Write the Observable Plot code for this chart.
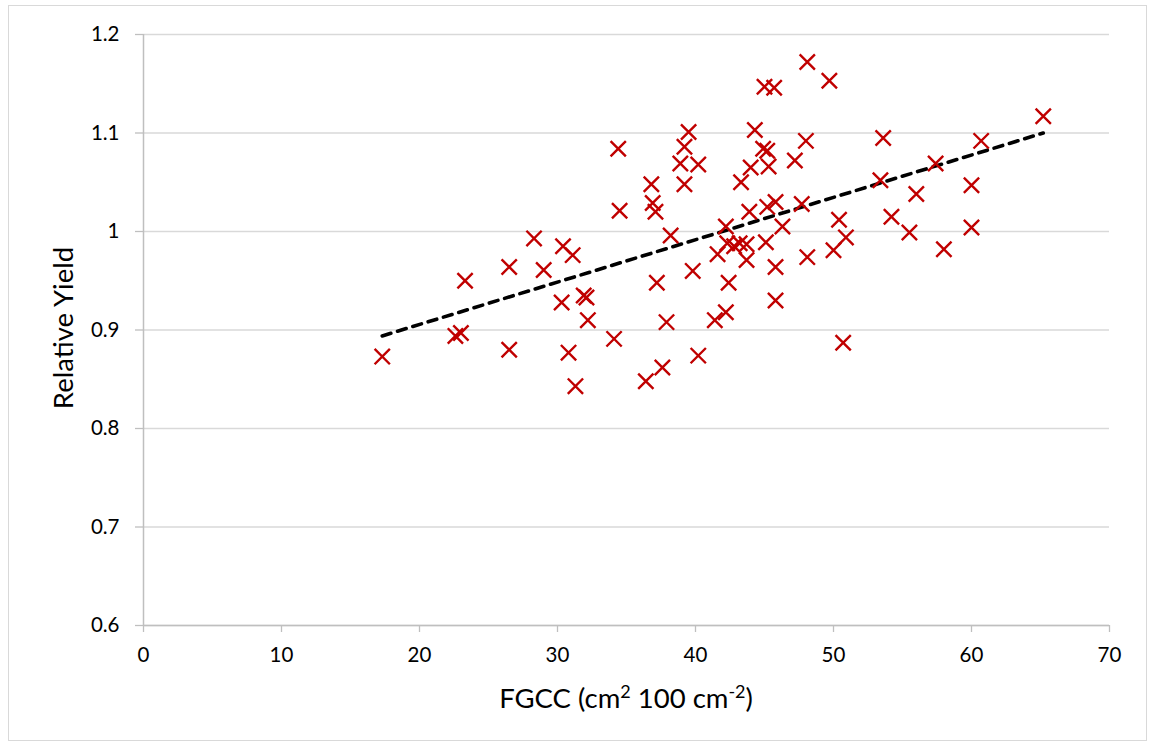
<!DOCTYPE html>
<html>
<head>
<meta charset="utf-8">
<script src="https://cdn.jsdelivr.net/npm/d3@7"></script>
<script src="https://cdn.jsdelivr.net/npm/@observablehq/plot@0.6"></script>
<style>
  html, body { margin: 0; padding: 0; background: #fff; }
  #wrap { position: relative; width: 1150px; height: 747px; overflow: hidden; }
  #border { position: absolute; left: 8px; top: 5px; width: 1139px; height: 736px; border: 1px solid #d9d9d9; box-sizing: border-box; }
  #chart { position: absolute; left: 0; top: 0; }
</style>
</head>
<body>
<div id="wrap"><div id="border"></div><div id="chart"></div></div>
<script>
const fgcc = [17.3, 23.3, 22.6, 23.0, 26.5, 26.5, 28.3, 29.0, 30.4, 31.1,
  30.3, 31.9, 32.1, 32.2, 30.8, 31.3, 34.1, 34.4, 39.5, 39.2,
  38.9, 40.2, 39.2, 36.8, 36.9, 37.1, 34.5, 48.1, 49.7, 45.0,
  45.7, 44.3, 44.9, 45.2, 48.0, 47.2, 44.0, 45.3, 43.3, 43.9,
  45.2, 45.8, 47.7, 38.2, 42.2, 46.3, 50.4, 50.9, 50.0, 41.6,
  42.3, 42.8, 43.2, 43.7, 43.7, 45.1, 45.8, 48.1, 39.8, 37.2,
  42.4, 45.8, 37.9, 41.4, 42.2, 50.7, 40.2, 37.6, 36.4, 53.6,
  60.7, 65.2, 57.4, 53.4, 56.0, 60.0, 54.2, 55.5, 60.0, 58.0];
const relYield = [0.873, 0.950, 0.894, 0.897, 0.964, 0.880, 0.993, 0.961, 0.985, 0.976,
  0.928, 0.935, 0.933, 0.910, 0.877, 0.843, 0.891, 1.084, 1.101, 1.086,
  1.069, 1.068, 1.048, 1.048, 1.029, 1.020, 1.021, 1.172, 1.153, 1.147,
  1.146, 1.103, 1.084, 1.082, 1.092, 1.072, 1.065, 1.066, 1.050, 1.020,
  1.025, 1.030, 1.028, 0.996, 1.005, 1.005, 1.012, 0.994, 0.981, 0.977,
  0.988, 0.985, 0.988, 0.987, 0.971, 0.989, 0.964, 0.974, 0.960, 0.948,
  0.948, 0.930, 0.908, 0.910, 0.918, 0.887, 0.874, 0.862, 0.848, 1.095,
  1.092, 1.117, 1.069, 1.052, 1.038, 1.047, 1.015, 0.999, 1.004, 0.982];
const trendX = [17.3, 65.2];
const trendY = [0.894, 1.100];
const xTicks = [0, 10, 20, 30, 40, 50, 60, 70];
const yTicks = [0.6, 0.7, 0.8, 0.9, 1.0, 1.1, 1.2];
const yTickLabels = ["0.6", "0.7", "0.8", "0.9", "1", "1.1", "1.2"];
const yLabel = "Relative Yield";

const points = fgcc.map((x, i) => ({x, y: relYield[i]}));
const trend = trendX.map((x, i) => ({x, y: trendY[i]}));

const font = "Lato, 'Open Sans', sans-serif";
const plot = Plot.plot({
  width: 1150,
  height: 747,
  marginLeft: 143,
  marginRight: 41,
  marginTop: 34,
  marginBottom: 122,
  style: {fontFamily: font, fontSize: "20.5px", color: "#000", background: "transparent"},
  x: {domain: [0, 70]},
  y: {domain: [0.6, 1.2]},
  marks: [
    Plot.gridY(yTicks, {stroke: "#d9d9d9", strokeOpacity: 1, strokeWidth: 1.3}),
    Plot.ruleX([0], {y1: 0.6, y2: 1.2, stroke: "#bfbfbf", strokeWidth: 1.5}),
    Plot.ruleY([0.6], {stroke: "#bfbfbf", strokeWidth: 1.5}),
    Plot.axisY(yTicks, {tickSize: 8, tickPadding: 16, stroke: "#bfbfbf", strokeWidth: 1.3, label: null,
      tickFormat: (d, i) => yTickLabels[i], fill: "#000", fontSize: 20.5}),
    Plot.axisX(xTicks, {tickSize: 7, tickPadding: 15, stroke: "#bfbfbf", strokeWidth: 1.3, label: null, fill: "#000", fontSize: 20.5}),
    Plot.line(trend, {x: "x", y: "y", stroke: "#000", strokeWidth: 3.6, strokeDasharray: "9,7", strokeLinecap: "round"}),
    Plot.dot(points, {x: "x", y: "y", symbol: "times", r: 7, stroke: "#c00000", strokeWidth: 2.4})
  ]
});
document.getElementById("chart").appendChild(plot);

const svg = d3.select(plot);
// Y axis title
svg.append("text")
  .attr("transform", "translate(73,328) rotate(-90)")
  .attr("text-anchor", "middle")
  .attr("font-family", font)
  .attr("font-size", 27.5)
  .attr("fill", "#000")
  .text(yLabel);
// X axis title with superscripts
const xt = svg.append("text")
  .attr("x", 626)
  .attr("y", 708)
  .attr("text-anchor", "middle")
  .attr("font-family", font)
  .attr("font-size", 27.5)
  .attr("fill", "#000");
xt.append("tspan").text("FGCC (cm");
xt.append("tspan").attr("dy", -10).attr("font-size", 18).text("2");
xt.append("tspan").attr("dy", 10).text(" 100 cm");
xt.append("tspan").attr("dy", -10).attr("font-size", 18).text("-2");
xt.append("tspan").attr("dy", 10).text(")");
</script>
</body>
</html>
